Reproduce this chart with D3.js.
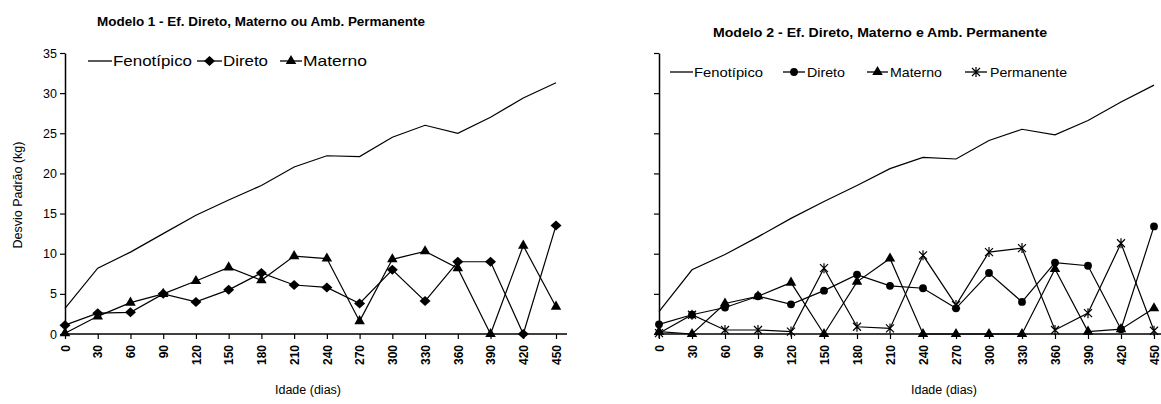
<!DOCTYPE html>
<html><head><meta charset="utf-8">
<script src="https://cdn.jsdelivr.net/npm/d3@7"></script>
<style>body{margin:0;background:#fff}svg{display:block}text{font-family:"Liberation Sans",Arial,sans-serif;fill:#000}</style>
</head><body><svg id="c" width="1161" height="404"></svg>
<script>
const ages = [0,30,60,90,120,150,180,210,240,270,300,330,360,390,420,450];
const yTicks = [0,5,10,15,20,25,30,35];
// Modelo 1
const m1Fenotipico = [3.2,8.2,10.2,12.5,14.8,16.7,18.5,20.8,22.2,22.1,24.5,26.0,25.0,27.0,29.4,31.3];
const m1Direto     = [1.1,2.6,2.7,5.0,4.0,5.5,7.6,6.1,5.8,3.8,8.0,4.1,9.0,9.0,0.0,13.5];
const m1Materno    = [0.1,2.2,3.9,5.0,6.6,8.3,6.7,9.7,9.4,1.6,9.3,10.3,8.2,0.0,11.0,3.4];
// Modelo 2
const m2Fenotipico = [2.8,8.0,9.9,12.1,14.4,16.5,18.5,20.6,22.0,21.8,24.1,25.5,24.8,26.6,28.9,31.0];
const m2Direto     = [1.2,2.4,3.3,4.7,3.7,5.4,7.4,6.0,5.7,3.2,7.6,4.0,8.9,8.5,0.6,13.4];
const m2Materno    = [0.3,0.0,3.8,4.7,6.4,0.0,6.5,9.4,0.0,0.0,0.0,0.0,8.1,0.3,0.6,3.2];
const m2Permanente = [0.1,2.4,0.5,0.5,0.3,8.2,0.9,0.7,9.8,3.6,10.2,10.7,0.5,2.6,11.3,0.4];

const svg = d3.select("#c");

function marker(g, type, x, y){
  if(type==="diamond"){
    g.append("path").attr("d",`M${x},${y-5}L${x+5.5},${y}L${x},${y+5}L${x-5.5},${y}Z`).attr("fill","#000");
  } else if(type==="triangle"){
    g.append("path").attr("d", d3.symbol(d3.symbolTriangle, 48)()).attr("transform",`translate(${x},${y})`).attr("fill","#000");
  } else if(type==="square"){
    g.append("path").attr("d", d3.symbol(d3.symbolCircle, 48)()).attr("transform",`translate(${x},${y})`).attr("fill","#000");
  } else if(type==="star"){
    const s=4;
    g.append("path").attr("d",`M${x-s},${y-s}L${x+s},${y+s}M${x-s},${y+s}L${x+s},${y-s}M${x},${y-s-1}L${x},${y+s+1}`)
      .attr("stroke","#000").attr("stroke-width",1.2).attr("fill","none");
  }
}

function chart(opt){
  const g = svg.append("g");
  const x = d3.scaleLinear().domain([0,450]).range([opt.x0, opt.x1]);
  const y = d3.scaleLinear().domain([0,35]).range([334,53]);
  const ya = d3.axisLeft(y).tickValues(yTicks).tickSize(5).tickSizeOuter(0)
    .tickFormat(opt.yLabels ? d3.format("d") : () => "");
  const yg = g.append("g").attr("transform",`translate(${opt.x0},0)`).call(ya);
  yg.select(".domain").attr("stroke","#000").attr("stroke-width",1.5);
  yg.selectAll(".tick line").attr("stroke","#000").attr("stroke-width",1.2);
  yg.selectAll(".tick text").attr("font-size",12.5).attr("x",-8).style("font-family","Liberation Sans, Arial");
  const xa = d3.axisBottom(x).tickValues(ages).tickSize(5).tickSizeOuter(0).tickFormat(d3.format("d"));
  const xg = g.append("g").attr("transform",`translate(0,334)`).call(xa);
  xg.select(".domain").remove();
  g.append("line").attr("x1",opt.x0).attr("x2",opt.xEnd).attr("y1",334).attr("y2",334).attr("stroke","#000").attr("stroke-width",1.5);
  xg.selectAll(".tick line").attr("stroke","#000").attr("stroke-width",1.2);
  xg.selectAll(".tick text").attr("font-size",12).attr("font-weight","bold").attr("transform","rotate(-90)")
    .attr("text-anchor","end").attr("x",-11).attr("y",0).attr("dy","0.35em");
  const line = d3.line().x((d,i)=>x(ages[i])).y(d=>y(d));
  opt.series.forEach(s=>{
    g.append("path").datum(s.values).attr("d",line).attr("fill","none").attr("stroke","#000").attr("stroke-width",s.w||1.2);
    if(s.marker) s.values.forEach((v,i)=>marker(g,s.marker,x(ages[i]),y(v)));
  });
  g.append("text").attr("x",opt.titleX).attr("y",opt.titleY).attr("text-anchor","middle")
    .attr("font-size",12).attr("font-weight","bold").attr("textLength",opt.titleW).attr("lengthAdjust","spacingAndGlyphs").text(opt.title);
  g.append("text").attr("x",opt.xtX).attr("y",394).attr("text-anchor","middle").attr("font-size",12.5).text("Idade (dias)");
  opt.legend.forEach(l=>{
    g.append("line").attr("x1",l.lx1).attr("x2",l.lx2).attr("y1",opt.legY).attr("y2",opt.legY).attr("stroke","#000").attr("stroke-width",1.3);
    if(l.marker) marker(g,l.marker,(l.lx1+l.lx2)/2,opt.legY);
    g.append("text").attr("x",l.tx).attr("y",opt.legY).attr("dy","0.35em").attr("font-size",opt.legFs)
      .attr("textLength",l.tw).attr("lengthAdjust","spacingAndGlyphs").text(l.label);
  });
  return g;
}

chart({
  x0:65, x1:556, xEnd:567, yLabels:true,
  title:"Modelo 1 - Ef. Direto, Materno ou Amb. Permanente", titleX:261, titleY:26, titleW:328,
  xtX:308, legY:61, legFs:15,
  series:[
    {values:m1Fenotipico},
    {values:m1Direto, marker:"diamond"},
    {values:m1Materno, marker:"triangle"}
  ],
  legend:[
    {label:"Fenotípico", lx1:88, lx2:112, tx:113, tw:79},
    {label:"Direto", lx1:197, lx2:222, tx:223, tw:45, marker:"diamond"},
    {label:"Materno", lx1:280, lx2:302, tx:303, tw:64, marker:"triangle"}
  ]
});

chart({
  x0:659, x1:1154, xEnd:1161, yLabels:false,
  title:"Modelo 2 - Ef. Direto, Materno e Amb. Permanente", titleX:880, titleY:37, titleW:334,
  xtX:944, legY:72, legFs:13,
  series:[
    {values:m2Fenotipico},
    {values:m2Direto, marker:"square"},
    {values:m2Materno, marker:"triangle"},
    {values:m2Permanente, marker:"star"}
  ],
  legend:[
    {label:"Fenotípico", lx1:670, lx2:693, tx:694, tw:69},
    {label:"Direto", lx1:783, lx2:805, tx:807, tw:38, marker:"square"},
    {label:"Materno", lx1:867, lx2:888, tx:890, tw:52, marker:"triangle"},
    {label:"Permanente", lx1:965, lx2:987, tx:990, tw:77, marker:"star"}
  ]
});

svg.append("text").attr("transform","translate(22,195) rotate(-90)").attr("text-anchor","middle")
  .attr("font-size",12.5).text("Desvio Padrão (kg)");
</script></body></html>
